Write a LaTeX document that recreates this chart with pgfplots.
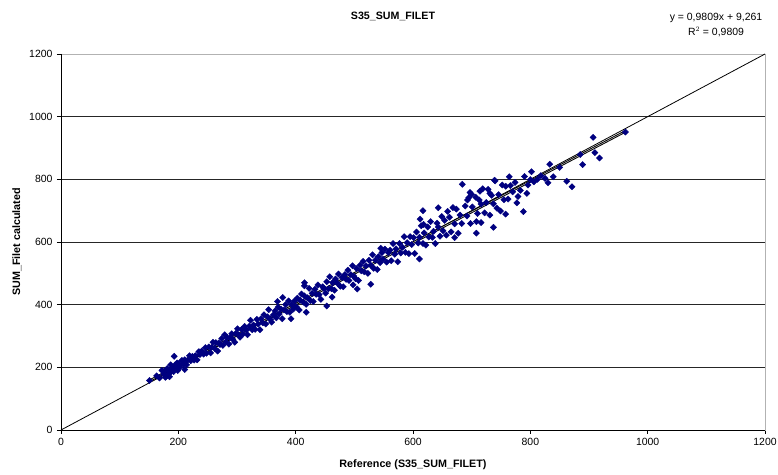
\documentclass[border=0pt]{standalone}
\usepackage{pgfplots}
\pgfplotsset{compat=1.18}
\usepackage{fontspec}
\setmainfont{Liberation Sans}
\definecolor{navyx}{RGB}{0,0,128}
\begin{document}
\begin{tikzpicture}[x=1bp,y=1bp]
\useasboundingbox (-61,-45) rectangle (717,430);
\begin{axis}[
  at={(0,0)}, anchor=south west,
  scale only axis, width=704bp, height=376bp,
  xmin=0, xmax=1200, ymin=0, ymax=1200,
  xtick={0,200,...,1200}, ytick={0,200,...,1200},
  tick pos=left, tick align=outside, major tick length=4bp,
  tick style={black, line width=0.8bp},
  ymajorgrids, grid style={black!85, line width=0.8bp},
  axis line style={gray!60, line width=0.8bp},
  /pgf/number format/assume math mode=true,
  /pgf/number format/1000 sep={},
  tick label style={font=\fontsize{10.5}{12}\selectfont},
  yticklabel style={xshift=-1bp},
  xticklabel style={yshift=-1bp},
  clip=false,
]
\addplot[black, line width=0.8bp] coordinates {(0,0) (1200,1200)};
\addplot[only marks, mark=square*, mark size=2.2bp, mark options={rotate=45, fill=navyx, draw=navyx}] coordinates {
(151,158)(193,235)(211,193)(163,173)(168,166)(172,190)(175,178)(177,189)(180,172)(181,196)
(184,191)(186,182)(187,208)(189,189)(191,200)(192,186)(194,207)(196,200)(198,214)(199,190)
(201,212)(203,201)(206,222)(209,210)(211,224)(214,208)(216,223)(219,237)(221,221)(224,235)
(227,223)(229,237)(232,224)(235,250)(237,241)(240,252)(243,242)(246,263)(248,245)(178,168)
(185,170)(183,178)
(252,265)(255,246)(257,264)(259,280)(262,260)(264,279)(267,252)(269,278)(271,273)(274,292)
(276,270)(279,304)(281,281)(283,296)(286,274)(288,294)(291,307)(293,289)(296,280)(298,308)
(301,323)(303,304)(305,296)(308,321)(310,306)(313,331)(316,319)(318,304)(321,331)(323,350)
(326,320)(328,335)(331,321)(334,353)(336,338)(339,320)(341,355)(344,342)(346,368)(349,338)
(352,361)(354,384)(357,352)(359,344)(362,367)(365,380)(367,358)(370,392)(372,370)(375,386)
(377,355)(380,383)(383,400)(385,378)(388,412)(390,376)(393,400)(396,386)(398,412)(392,355)
(369,410)(378,423)(418,376)
(401,393)(403,421)(406,383)(408,414)(410,434)(413,408)(415,428)(418,401)(420,422)(423,452)
(425,413)(428,436)(430,410)(433,449)(435,433)(438,463)(440,432)(443,417)(446,457)(448,452)
(451,437)(453,473)(456,451)(458,489)(461,451)(463,470)(466,446)(468,482)(471,469)(473,498)
(476,459)(479,487)(481,457)(484,496)(486,481)(489,510)(491,477)(494,496)(497,524)(499,491)
(502,483)(504,515)(507,477)(510,526)(512,508)(515,538)(517,505)(520,524)(523,500)(525,542)
(528,526)(531,559)(533,516)(536,542)(539,512)(541,553)(544,534)(547,566)(549,545)(552,577)
(555,536)(558,566)
(453,396)(415,470)(415,460)(462,424)(528,465)(505,450)(498,463)
(561,574)(563,540)(566,595)(569,561)(571,578)(574,537)(577,595)(579,565)(582,583)(585,617)
(587,567)(590,598)(593,563)(595,617)(598,592)(601,614)(603,563)(606,632)(609,597)(611,615)
(614,652)(617,595)(619,629)(622,590)(625,648)(627,616)(630,665)(633,615)(635,634)(638,595)
(641,660)(643,648)(646,618)(649,681)(651,636)(654,669)(657,622)(659,698)
(611,546)(545,580)(617,700)(612,673)(618,656)(643,709)
(662,679)(665,632)(668,710)(671,658)(674,705)(677,628)(680,686)(683,659)(689,715)(692,683)
(695,741)(698,659)(701,712)(707,743)(710,691)(713,734)(716,662)(719,770)(722,693)(725,726)
(728,768)(731,686)(734,749)(737,722)(740,795)(743,708)(746,751)(749,699)(752,782)(755,735)
(758,778)
(671,614)(684,784)(708,628)(708,665)(737,647)(758,689)(739,797)(697,758)(700,752)(714,762)
(731,755)(716,721)(693,734)
(764,808)(788,697)(802,824)(833,848)(830,789)(839,808)(862,794)(871,776)(889,847)(885,879)
(907,934)(910,885)(918,868)(962,951)(777,725)(794,755)
(762,737)(766,780)(770,760)(774,790)(779,745)(783,765)(790,809)(796,782)(800,799)(806,792)
(812,800)(818,812)(825,803)(850,838)
};
\addplot[black, line width=2.4bp] coordinates {(150,156.4) (962,952.9)};
\addplot[gray!45, line width=0.5bp] coordinates {(150,156.4) (962,952.9)};
\draw[black, line width=0.9bp] (rel axis cs:0,1) -- (rel axis cs:0,0) -- (rel axis cs:1,0);
\end{axis}
\node[font=\fontsize{10.7}{12}\selectfont\bfseries] at (332,414) {S35\_SUM\_FILET};
\node[font=\fontsize{10.5}{16}\selectfont, align=center] at (655,405) {y = 0,9809x + 9,261\\R$^2$ = 0,9809};
\node[font=\fontsize{10.8}{12}\selectfont\bfseries, rotate=90] at (-44,188) {SUM\_Filet calculated};
\node[font=\fontsize{10.8}{12}\selectfont\bfseries] at (352,-35) {Reference (S35\_SUM\_FILET)};
\end{tikzpicture}
\end{document}
